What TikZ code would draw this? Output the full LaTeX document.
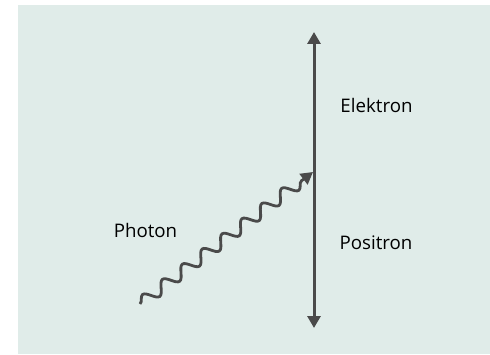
\documentclass[tikz,border=0pt]{standalone}
\usepackage{fontspec}
\setmainfont{Open Sans}
\usetikzlibrary{arrows.meta,decorations.pathmorphing}
\definecolor{panelbg}{RGB}{224,236,233}
\definecolor{linegray}{RGB}{74,74,74}
\tikzset{
  particle/.style={draw=linegray, line width=3pt, >={Triangle[width=13pt,length=12pt]}},
  label/.style={font=\fontsize{18.7}{22}\selectfont, anchor=base, text=black}
}
\begin{document}
\begin{tikzpicture}[x=1pt,y=1pt]
      \useasboundingbox (0,0) rectangle (490,354);
      % Background panel
      \fill[panelbg] (18,0) rectangle (490,349);

      % Points of the pair creation
      \coordinate (etop) at (314,322);
      \coordinate (pbot) at (314,26);
      \coordinate (vertex) at (313,182);
      \coordinate (gstart) at (140,50);

      % Electron and positron line
      \draw[particle, <->] (pbot) -- (etop);

      % Incoming photon as a wavy line
      \draw[particle, line width=2.8pt, ->, decorate,
            decoration={snake, amplitude=6pt, segment length=25pt, post length=8pt}]
            (gstart) -- (vertex);

      % Labels
      \node[label] (elektron) at (376.5,241.7) {Elektron};
      \node[label] (positron) at (376,104.7) {Positron};
      \node[label] (photon) at (145.5,117) {Photon};
\end{tikzpicture}
\end{document}
